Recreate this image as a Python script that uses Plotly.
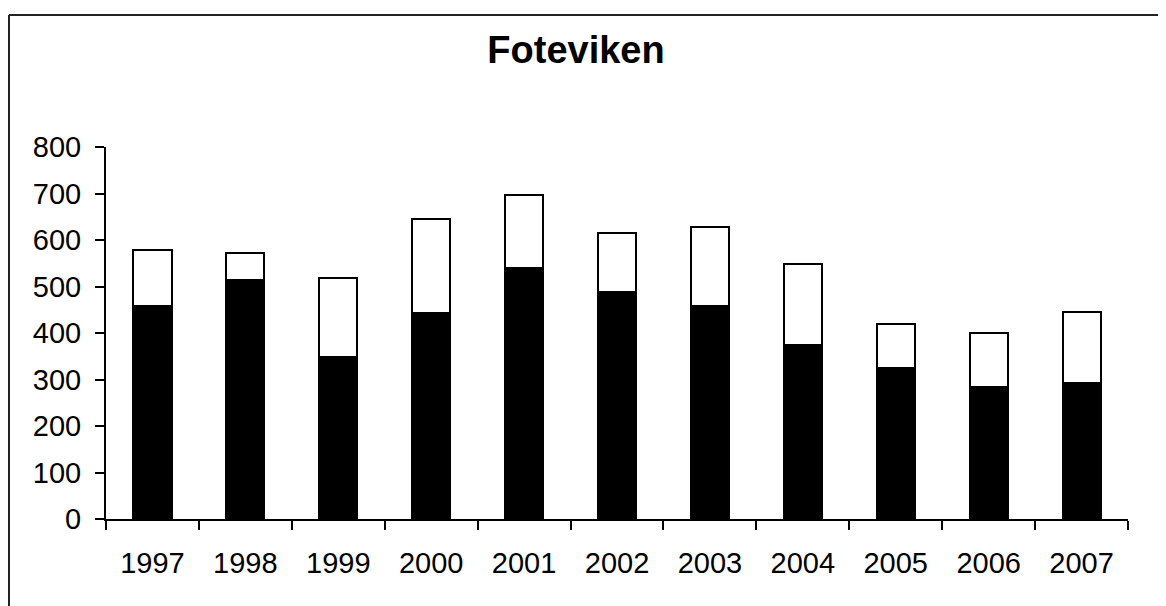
import plotly.graph_objects as go

# -----------------------------
# Data
# -----------------------------
years = ["1997", "1998", "1999", "2000", "2001", "2002",
         "2003", "2004", "2005", "2006", "2007"]
lower_part = [457, 513, 349, 442, 540, 489, 458, 375, 324, 283, 293]
upper_part = [121, 60, 169, 203, 156, 125, 171, 173, 95, 116, 152]
y_ticks = [0, 100, 200, 300, 400, 500, 600, 700, 800]

# the page body has an 8px margin, so the figure starts at (8, 8)
OFF = 8
W, H = 1166 - OFF, 606 - OFF
ML, MR, MT, MB = 106 - OFF, 38, 147 - OFF, 87
FONT = "Liberation Sans, Arial, sans-serif"

fig = go.Figure()
fig.add_trace(go.Bar(
    x=years, y=lower_part, name="lower",
    marker=dict(color="black", line=dict(color="black", width=2)),
))
fig.add_trace(go.Bar(
    x=years, y=upper_part, name="upper",
    marker=dict(color="white", line=dict(color="black", width=2)),
))

# chart frame (only top and left edges are visible in the picture)
pw = W - ML - MR
ph = H - MT - MB
fx0 = (1 - ML) / pw
fy1 = 1 + (MT - 7) / ph
fig.add_shape(type="line", xref="paper", yref="paper",
              x0=fx0, x1=1.2, y0=fy1, y1=fy1,
              line=dict(color="#222", width=2))
fig.add_shape(type="line", xref="paper", yref="paper",
              x0=fx0, x1=fx0, y0=fy1, y1=-0.4,
              line=dict(color="#222", width=2))

fig.update_layout(
    width=W, height=H,
    barmode="stack",
    bargap=0.59,
    showlegend=False,
    plot_bgcolor="white",
    paper_bgcolor="white",
    margin=dict(l=ML, r=MR, t=MT, b=MB),
    font=dict(family=FONT, size=29, color="black"),
    title=dict(
        text="Foteviken",
        font=dict(family=FONT, size=38, color="black", weight="bold"),
        x=(576 - OFF) / W, xanchor="center",
        y=1 - (50 - OFF) / H, yanchor="middle", yref="container",
    ),
    xaxis=dict(
        type="category",
        showline=True, linecolor="black", linewidth=2,
        ticks="outside", ticklen=9, tickwidth=2, tickcolor="black",
        tickson="boundaries",
        showgrid=False, zeroline=False,
        ticklabelstandoff=17,
    ),
    yaxis=dict(
        range=[0, 800],
        tickvals=y_ticks,
        showline=True, linecolor="black", linewidth=2,
        ticks="outside", ticklen=9, tickwidth=2, tickcolor="black",
        showgrid=False, zeroline=False,
        ticklabelstandoff=8,
    ),
)

fig.write_html("out.html")
